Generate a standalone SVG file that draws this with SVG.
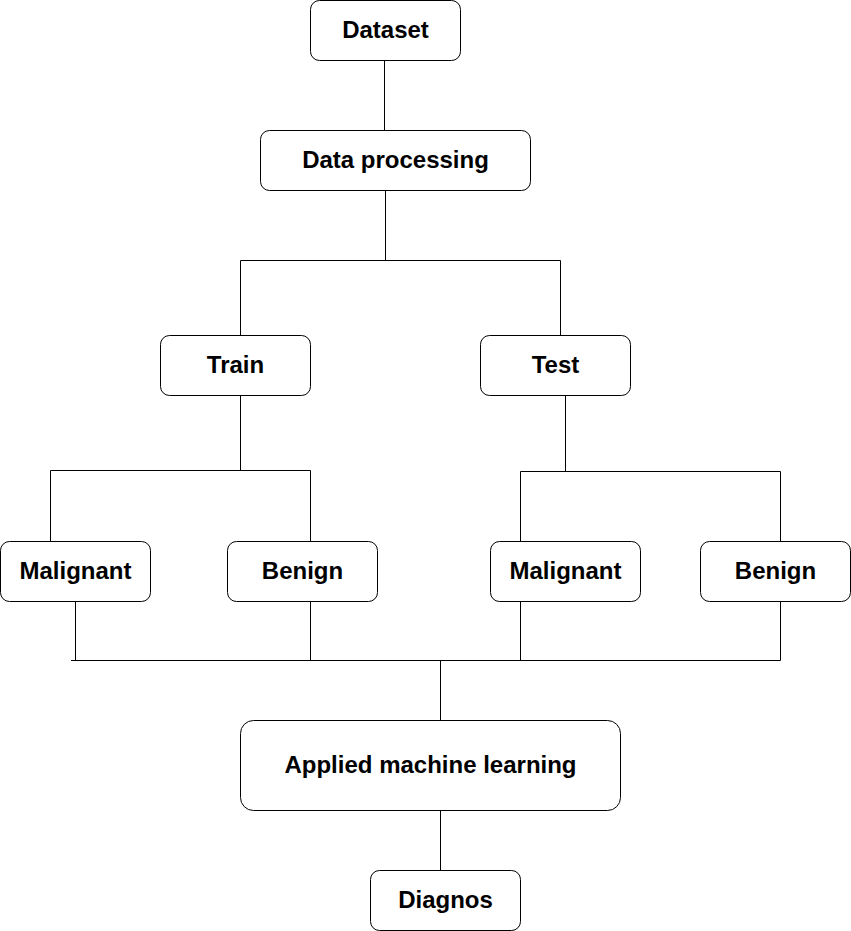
<svg xmlns="http://www.w3.org/2000/svg" width="851" height="931" viewBox="0 0 851 931">
<style>
.box{fill:#fff;stroke:#000;stroke-width:1}
.lbl{font-family:"Liberation Sans",Arial,sans-serif;font-weight:bold;font-size:24px;fill:#000;text-anchor:middle;dominant-baseline:central}
.ln{fill:none;stroke:#000;stroke-width:1}
</style>
<rect width="851" height="931" fill="#fff"/>
<g id="connectors">
<path class="ln" d="M384.5 60.5V130.5"/>
<path class="ln" d="M385.5 190.5V260.5M240.5 335.5V260.5H560.5V335.5"/>
<path class="ln" d="M240.5 395.5V470.5M50.5 541V470.5H310.5V541"/>
<path class="ln" d="M565.5 395.5V471.5M520.5 541V471.5H780.5V541"/>
<path class="ln" d="M75.5 601V660.5M310.5 601V660.5M520.5 601V660.5M780.5 601V660.5M71 660.5H780.5"/>
<path class="ln" d="M440.5 660.5V720.5"/>
<path class="ln" d="M440.5 810.5V870.5"/>
</g>
<g id="dataset"><rect class="box" x="310.5" y="0.5" width="150" height="60" rx="9"/><text class="lbl" x="385.5" y="29.5">Dataset</text></g>
<g id="data-processing"><rect class="box" x="260.5" y="130.5" width="270" height="60" rx="9"/><text class="lbl" x="395.5" y="159.5">Data processing</text></g>
<g id="train"><rect class="box" x="160.5" y="335.5" width="150" height="60" rx="9"/><text class="lbl" x="235.5" y="364.5">Train</text></g>
<g id="test"><rect class="box" x="480.5" y="335.5" width="150" height="60" rx="9"/><text class="lbl" x="555.5" y="364.5">Test</text></g>
<g id="malignant-train"><rect class="box" x="0.5" y="541.5" width="150" height="60" rx="9"/><text class="lbl" x="75.5" y="570.5">Malignant</text></g>
<g id="benign-train"><rect class="box" x="227.5" y="541.5" width="150" height="60" rx="9"/><text class="lbl" x="302.5" y="570.5">Benign</text></g>
<g id="malignant-test"><rect class="box" x="490.5" y="541.5" width="150" height="60" rx="9"/><text class="lbl" x="565.5" y="570.5">Malignant</text></g>
<g id="benign-test"><rect class="box" x="700.5" y="541.5" width="150" height="60" rx="9"/><text class="lbl" x="775.5" y="570.5">Benign</text></g>
<g id="applied-ml"><rect class="box" x="240.5" y="720.5" width="380" height="90" rx="13"/><text class="lbl" x="430.5" y="764.5">Applied machine learning</text></g>
<g id="diagnos"><rect class="box" x="370.5" y="870.5" width="150" height="60" rx="9"/><text class="lbl" x="445.5" y="899.5">Diagnos</text></g>
</svg>
